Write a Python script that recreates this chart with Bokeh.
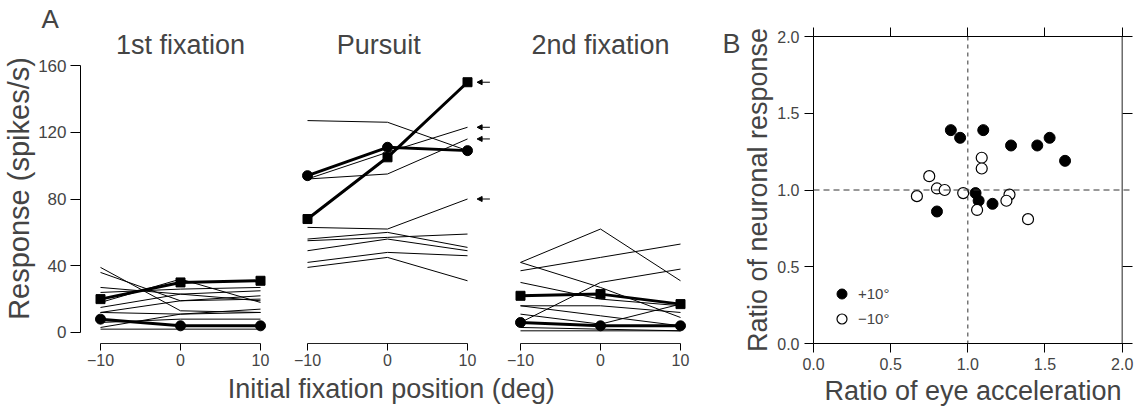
from bokeh.plotting import figure
from bokeh.layouts import row, column
from bokeh.models import (Range1d, FixedTicker, Span, Arrow, NormalHead, Label,
                          Legend, LegendItem, LinearAxis, NumeralTickFormatter)
from bokeh.embed import file_html
from bokeh.resources import INLINE

FONT = "Liberation Sans"

# ---------------- Panel A data ----------------
positions = [-10, 0, 10]
a_y_ticks = [0, 40, 80, 120, 160]
panel_titles = ["1st fixation", "Pursuit", "2nd fixation"]
a_xlabel = "Initial fixation position (deg)"
a_ylabel = "Response (spikes/s)"

fix1_thin = [[39, 13, 12], [36, 19, 22], [27, 23, 19], [24, 26, 27], [18, 32, 18],
             [15, 23, 25], [12, 11, 14], [12, 19, 20], [6, 8, 8], [3, 11, 12], [2, 2, 2]]
fix1_square = [20, 30, 31]
fix1_circle = [8, 4, 4]

pursuit_thin = [[127, 126, 109], [92, 108, 123], [92, 95, 116], [63, 62, 80],
                [56, 60, 51], [55, 57, 59], [49, 56, 49], [42, 48, 46], [39, 45, 31]]
pursuit_square = [68, 105, 150]
pursuit_circle = [94, 111, 109]
pursuit_arrows = [150, 123, 116, 80]

fix2_thin = [[42, 62, 31], [37, 45, 53], [42, 27, 9], [6, 30, 38], [30, 20, 16],
             [16, 16, 12], [16, 10, 4], [11, 5, 17], [3, 2, 1], [1, 1, 1]]
fix2_square = [22, 23, 17]
fix2_circle = [6, 4, 4]

# ---------------- Panel B data ----------------
b_ticks = [0.0, 0.5, 1.0, 1.5, 2.0]
b_xlabel = "Ratio of eye acceleration"
b_ylabel = "Ratio of neuronal response"
plus_x = [0.89, 0.95, 1.10, 1.28, 1.45, 1.53, 1.63, 1.05, 1.07, 1.16, 0.80]
plus_y = [1.39, 1.34, 1.39, 1.29, 1.29, 1.34, 1.19, 0.98, 0.93, 0.91, 0.86]
minus_x = [0.75, 0.80, 0.85, 0.67, 0.97, 1.09, 1.09, 1.06, 1.27, 1.25, 1.39]
minus_y = [1.09, 1.01, 1.00, 0.96, 0.98, 1.21, 1.14, 0.87, 0.97, 0.93, 0.81]

A_TOP = 33
A_FRAME_H = 310
yr = Range1d(-6.6, 179.2)


def make_a(idx, thin, sq, ci, x_end, frame_w, left, right, show_y, title_x=0.0):
    p = figure(frame_width=frame_w, frame_height=A_FRAME_H, x_range=Range1d(-12.5, x_end), y_range=yr,
               min_border_left=left, min_border_right=right, min_border_top=A_TOP, min_border_bottom=29,
               output_backend="svg", toolbar_location=None,
               title=("A" if show_y else None),
               y_axis_location="left" if show_y else None)
    p.outline_line_color = None
    p.grid.visible = False
    p.background_fill_color = None
    p.border_fill_color = None
    for ys in thin:
        p.line(positions, ys, line_width=1, color="black")
    p.line(positions, sq, line_width=3, color="black")
    p.scatter(positions, sq, marker="square", size=9, color="black")
    p.line(positions, ci, line_width=3, color="black")
    p.scatter(positions, ci, marker="circle", size=10, color="black")
    p.add_layout(Label(x=title_x, y=172.6, text=panel_titles[idx], text_font=FONT,
                       text_font_size="27px", text_align="center", text_baseline="alphabetic"))
    xa = p.xaxis[0]
    xa.ticker = FixedTicker(ticks=positions)
    xa.bounds = (-10, 10)
    xa.major_tick_out = 7
    xa.major_tick_in = 0
    xa.minor_tick_line_color = None
    xa.major_label_text_font = FONT
    xa.major_label_text_font_size = "16px"
    xa.major_label_standoff = 3
    xa.axis_line_color = "#222222"
    if show_y:
        p.title.align = "left"
        p.title.offset = -39
        p.title.standoff = 0
        p.title.text_line_height = 0.8
        p.title.text_font = FONT
        p.title.text_font_size = "26px"
        p.title.text_font_style = "normal"
        ya = p.yaxis[0]
        ya.ticker = FixedTicker(ticks=a_y_ticks)
        ya.bounds = (0, 160)
        ya.major_tick_out = 10
        ya.major_tick_in = 0
        ya.minor_tick_line_color = None
        ya.major_label_text_font = FONT
        ya.major_label_text_font_size = "17px"
        ya.major_label_standoff = 4
        ya.axis_label = a_ylabel
        ya.axis_label_text_font = FONT
        ya.axis_label_text_font_size = "29px"
        ya.axis_label_text_font_style = "normal"
        ya.axis_label_standoff = 0
    return p


pA1 = make_a(0, fix1_thin, fix1_square, fix1_circle, 12.5, 200, 80, 0, True)
pA2 = make_a(1, pursuit_thin, pursuit_square, pursuit_circle, 13.5, 208, 7, 0, False, title_x=-1.1)
pA3 = make_a(2, fix2_thin, fix2_square, fix2_circle, 12.5, 200, 5, 4, False)

for yv in pursuit_arrows:
    pA2.add_layout(Arrow(end=NormalHead(size=5, fill_color="black", line_color="black"),
                         x_start=12.8, y_start=yv, x_end=11.2, y_end=yv,
                         line_width=1, line_color="black"))

# shared x label under the three panels of A
pX = figure(frame_width=704, frame_height=38, x_range=Range1d(0, 1), y_range=Range1d(0, 1),
            min_border=0, output_backend="svg", toolbar_location=None,
            x_axis_location=None, y_axis_location=None)
pX.outline_line_color = None
pX.grid.visible = False
pX.background_fill_color = None
pX.border_fill_color = None
pX.add_layout(Label(x=0.555, y=0.56, text=a_xlabel, text_font=FONT, text_font_size="27px",
                    text_align="center", text_baseline="middle"))

# ---------------- Panel B ----------------
pB = figure(frame_width=319, frame_height=307, x_range=Range1d(0, 2.067), y_range=Range1d(0, 2.0),
            min_border_left=109, min_border_right=5, min_border_top=36, min_border_bottom=56,
            output_backend="svg", toolbar_location=None, title=None)
pB.outline_line_color = None
pB.grid.visible = False
pB.background_fill_color = None
pB.border_fill_color = None

pB.add_layout(Span(location=1.0, dimension="height", line_dash="4 4", line_color="#333333", line_width=1))
pB.add_layout(Span(location=1.0, dimension="width", line_dash="6 4", line_color="#333333", line_width=1))
pB.add_layout(Span(location=2.0, dimension="height", line_color="#222222", line_width=1))

r_plus = pB.scatter(plus_x, plus_y, marker="circle", size=11, fill_color="black", line_color="black")
r_minus = pB.scatter(minus_x, minus_y, marker="circle", size=11, fill_color="white", line_color="black",
                     line_width=1.2)

for ax in (pB.xaxis[0], pB.yaxis[0]):
    ax.ticker = FixedTicker(ticks=b_ticks)
    ax.formatter = NumeralTickFormatter(format="0.0")
    ax.major_tick_out = 9
    ax.major_tick_in = 0
    ax.minor_tick_line_color = None
    ax.major_label_text_font = FONT
    ax.major_label_text_font_size = "16px"
    ax.major_label_standoff = 5
    ax.axis_label_text_font = FONT
    ax.axis_label_text_font_size = "27px"
    ax.axis_label_text_font_style = "normal"
pB.xaxis[0].axis_label = b_xlabel
pB.xaxis[0].axis_label_standoff = 3
pB.yaxis[0].axis_label = b_ylabel
pB.yaxis[0].axis_label_standoff = 1

# panel letter "B", set as the only tick label of an extra (line-less) left axis
letter_axis = LinearAxis(ticker=FixedTicker(ticks=[1.95]), major_label_overrides={1.95: "B"},
                         axis_line_color=None, major_tick_line_color=None, minor_tick_line_color=None,
                         major_tick_out=0, major_tick_in=0,
                         major_label_text_font=FONT, major_label_text_font_size="27px",
                         major_label_standoff=0)
pB.add_layout(letter_axis, "left")

top = LinearAxis(ticker=FixedTicker(ticks=b_ticks), major_tick_out=9, major_tick_in=0,
                 minor_tick_line_color=None, major_label_text_font_size="1px",
                 major_label_text_color=None, major_label_standoff=0)
pB.add_layout(top, "above")
right = LinearAxis(ticker=FixedTicker(ticks=[0.5, 1.5]), major_tick_out=0, major_tick_in=10,
                   minor_tick_line_color=None, axis_line_color=None, major_label_text_font_size="1px",
                   major_label_text_color=None, major_label_standoff=0)
pB.add_layout(right, "right")

legend = Legend(items=[LegendItem(label="+10°", renderers=[r_plus]),
                       LegendItem(label="\u221210°", renderers=[r_minus])],
                location=(16, 12), glyph_width=25, glyph_height=25, spacing=0, padding=0, margin=0,
                label_standoff=4, label_text_font=FONT, label_text_font_size="15px",
                border_line_color=None, background_fill_alpha=0)
pB.add_layout(legend)

layout = row(column(row(pA1, pA2, pA3, spacing=0), pX, spacing=0), pB, spacing=0)
open("out.html", "w").write(file_html(layout, INLINE))
